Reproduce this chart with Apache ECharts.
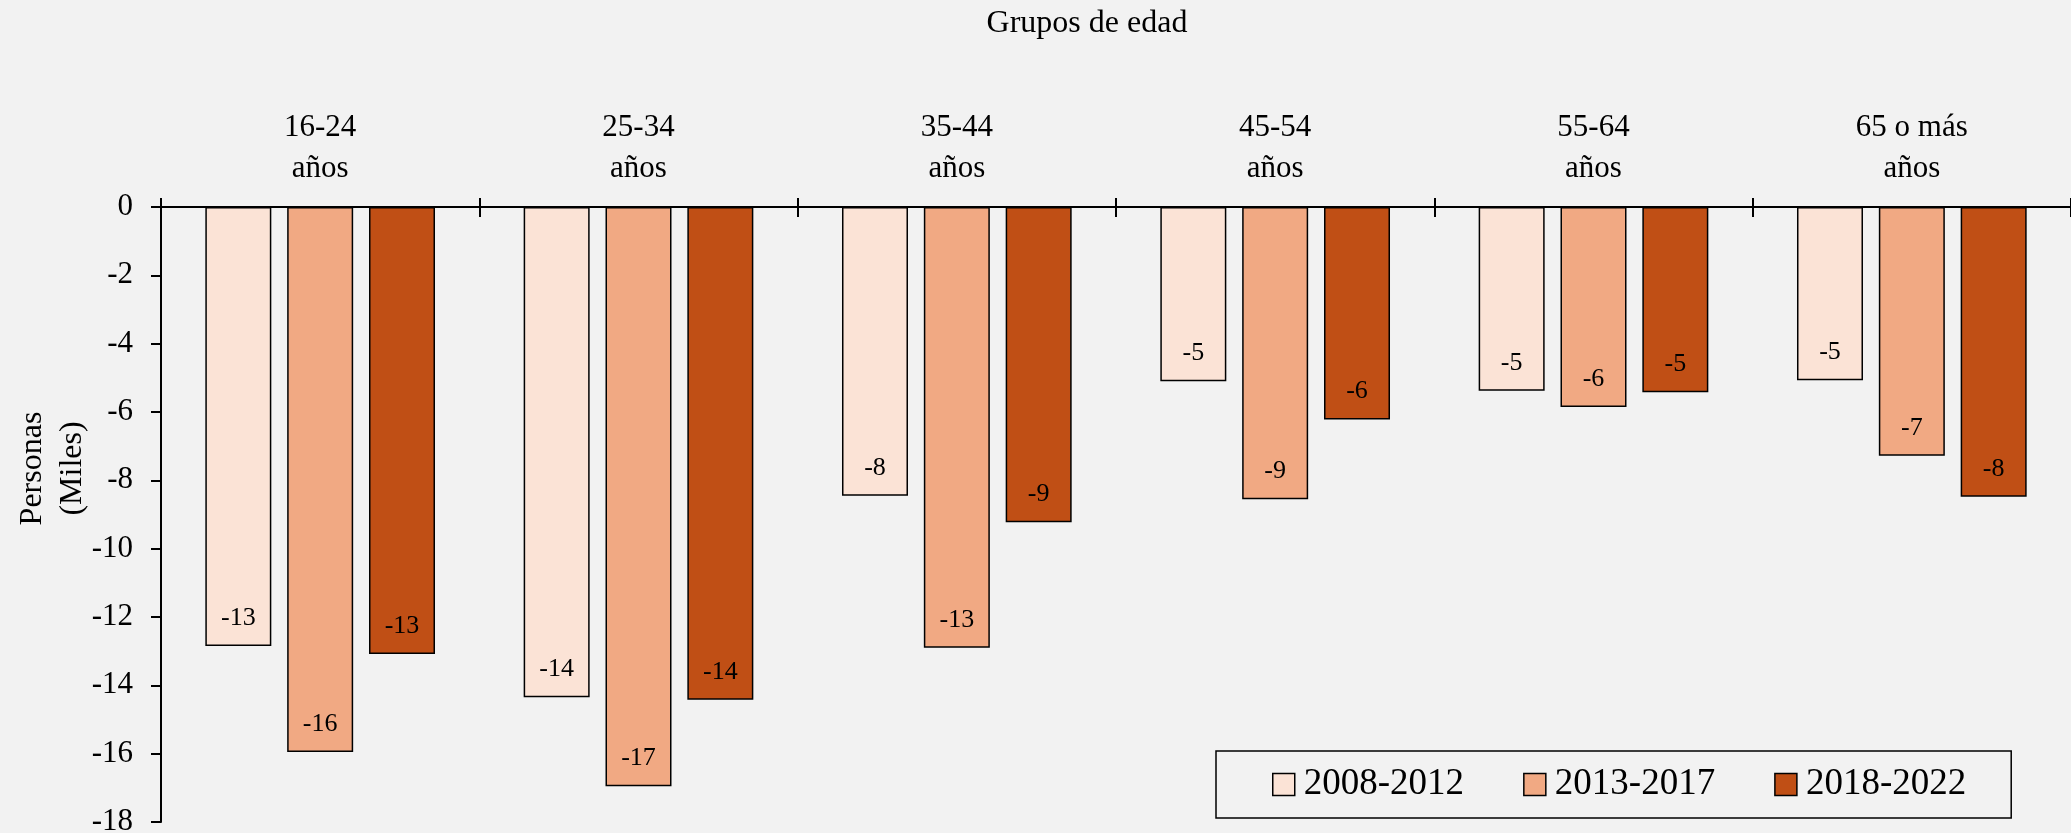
<!DOCTYPE html>
<html>
<head>
<meta charset="utf-8">
<script src="https://cdn.jsdelivr.net/npm/echarts@6/dist/echarts.min.js"></script>
<style>
html,body{margin:0;padding:0;background:#f2f2f2;}
#c{width:2071px;height:833px;}
</style>
</head>
<body>
<div id="c"></div>
<script>
const categories = ['16-24\naños', '25-34\naños', '35-44\naños', '45-54\naños', '55-64\naños', '65 o más\naños'];
const seriesNames = ['2008-2012', '2013-2017', '2018-2022'];
const s2008 = [-12.85, -14.35, -8.45, -5.1, -5.38, -5.07];
const s2013 = [-15.95, -16.95, -12.9, -8.55, -5.85, -7.28];
const s2018 = [-13.08, -14.42, -9.23, -6.22, -5.42, -8.48];
const yTicks = { min: -18, max: 0, interval: 2 };
const colors = ['#FBE3D6', '#F1A983', '#C04F15'];

const FONT = "'Liberation Serif', 'Times New Roman', serif";
const chart = echarts.init(document.getElementById('c'));
const values = [s2008, s2013, s2018];

chart.setOption({
  backgroundColor: '#f2f2f2',
  animation: false,
  textStyle: { fontFamily: FONT, color: '#000' },
  title: {
    text: 'Grupos de edad',
    left: 1087, top: 8, textAlign: 'center', padding: 0,
    textStyle: { fontFamily: FONT, fontSize: 32, fontWeight: 'normal', color: '#000' }
  },
  legend: {
    data: seriesNames,
    left: 1216, top: 751,
    padding: [15, 45, 15, 56],
    itemWidth: 22, itemHeight: 22, itemGap: 59,
    icon: 'rect',
    borderColor: '#000', borderWidth: 1.5,
    backgroundColor: '#f2f2f2',
    textStyle: { fontFamily: FONT, fontSize: 37, color: '#000', padding: [0, 0, 0, 4] },
    itemStyle: { borderColor: '#000', borderWidth: 1.5 }
  },
  grid: { left: 161, right: 0, top: 207, bottom: 11, containLabel: false, outerBoundsMode: 'none' },
  xAxis: [{
    type: 'category', data: categories, position: 'top',
    axisLine: { lineStyle: { color: '#000', width: 2 } },
    axisTick: { show: true, length: 9, lineStyle: { color: '#000', width: 2 } },
    axisLabel: { fontFamily: FONT, fontSize: 31, color: '#000', margin: 18, lineHeight: 41, interval: 0 }
  }, {
    type: 'category', data: categories, position: 'top',
    axisLine: { show: false },
    axisTick: { show: true, inside: true, length: 10, lineStyle: { color: '#000', width: 2 } },
    axisLabel: { show: false }
  }],
  yAxis: {
    type: 'value', min: yTicks.min, max: yTicks.max, interval: yTicks.interval,
    name: 'Personas\n(Miles)', nameLocation: 'middle', nameGap: 68, nameRotate: 90,
    nameMoveOverlap: false,
    nameTextStyle: { fontFamily: FONT, fontSize: 32, color: '#000', lineHeight: 40, padding: [0, 0, 0, 92] },
    axisLine: { show: true, lineStyle: { color: '#000', width: 2 } },
    axisTick: { show: true, length: 10, lineStyle: { color: '#000', width: 2 } },
    splitLine: { show: false },
    axisLabel: { fontFamily: FONT, fontSize: 31, color: '#000', margin: 28 }
  },
  series: seriesNames.map((n, i) => ({
    name: n, type: 'bar', xAxisIndex: 0, data: values[i],
    barWidth: 66, barGap: '24%',
    itemStyle: { color: colors[i], borderColor: '#000', borderWidth: 1.5 },
    label: {
      show: true, position: 'insideBottom', distance: 15,
      fontFamily: FONT, fontSize: 26, color: '#000',
      formatter: p => Math.round(p.value).toString()
    }
  }))
});
</script>
</body>
</html>
